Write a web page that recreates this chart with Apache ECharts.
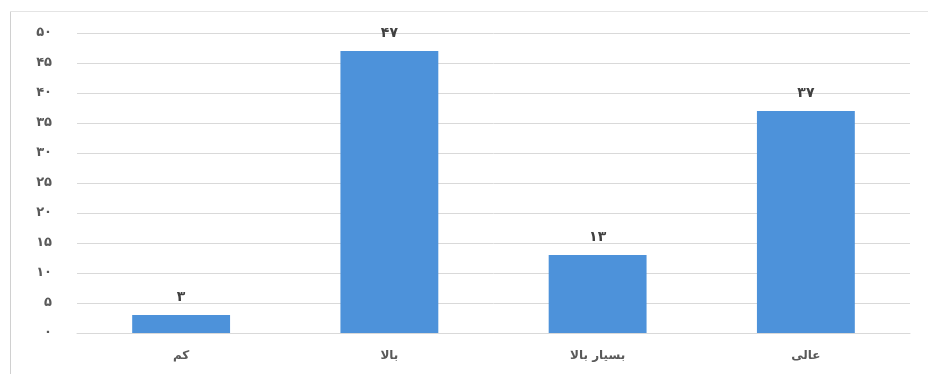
<!DOCTYPE html>
<html>
<head>
<meta charset="utf-8">
<script src="https://cdn.jsdelivr.net/npm/echarts@6/dist/echarts.min.js"></script>
<style>
  html, body { margin: 0; padding: 0; background: #fff; }
  #chart { width: 928px; height: 374px; }
</style>
</head>
<body>
<div id="chart"></div>
<script>
// Categories and their counts
const categories = ['کم', 'بالا', 'بسیار بالا', 'عالی'];
const values = [3, 47, 13, 37];
// Value-axis tick labels (Persian digits), 0..50 step 5
const yTickLabels = ['۰', '۵', '۱۰', '۱۵', '۲۰', '۲۵', '۳۰', '۳۵', '۴۰', '۴۵', '۵۰'];

const persianDigits = '۰۱۲۳۴۵۶۷۸۹';
function toPersian(n) {
  return String(n).replace(/[0-9]/g, d => persianDigits[+d]);
}

const textFont = "'DejaVu Sans', sans-serif";
const chart = echarts.init(document.getElementById('chart'));
chart.setOption({
  backgroundColor: '#ffffff',
  animation: false,
  grid: { left: 77, right: 18, top: 33, bottom: 41, containLabel: false },
  xAxis: {
    type: 'category',
    data: categories,
    axisLine: { show: true, lineStyle: { color: '#d9d9d9', width: 1 } },
    axisTick: { show: false },
    axisLabel: {
      color: '#595959', fontFamily: textFont, fontWeight: 'bold', fontSize: 12, margin: 17
    }
  },
  yAxis: {
    type: 'value',
    min: 0, max: 50, interval: 5,
    axisLine: { show: false },
    axisTick: { show: false },
    splitLine: { lineStyle: { color: '#d9d9d9', width: 1 } },
    axisLabel: {
      color: '#595959', fontFamily: textFont, fontWeight: 'bold', fontSize: 13, margin: 25,
      formatter: v => yTickLabels[Math.round(v / 5)]
    }
  },
  series: [{
    type: 'bar',
    data: values,
    barWidth: '47%',
    itemStyle: { color: '#4d92da' },
    label: {
      show: true,
      position: 'top',
      distance: 11,
      color: '#404040',
      fontFamily: textFont,
      fontWeight: 'bold',
      fontSize: 14,
      formatter: p => toPersian(p.value)
    }
  }],
  graphic: [
    { type: 'line', shape: { x1: 10.5, y1: 11, x2: 10.5, y2: 374 }, style: { stroke: '#d0d0d0', lineWidth: 1 } },
    { type: 'line', shape: { x1: 10, y1: 11.5, x2: 928, y2: 11.5 }, style: { stroke: '#e4e4e4', lineWidth: 1 } }
  ]
});
</script>
</body>
</html>
